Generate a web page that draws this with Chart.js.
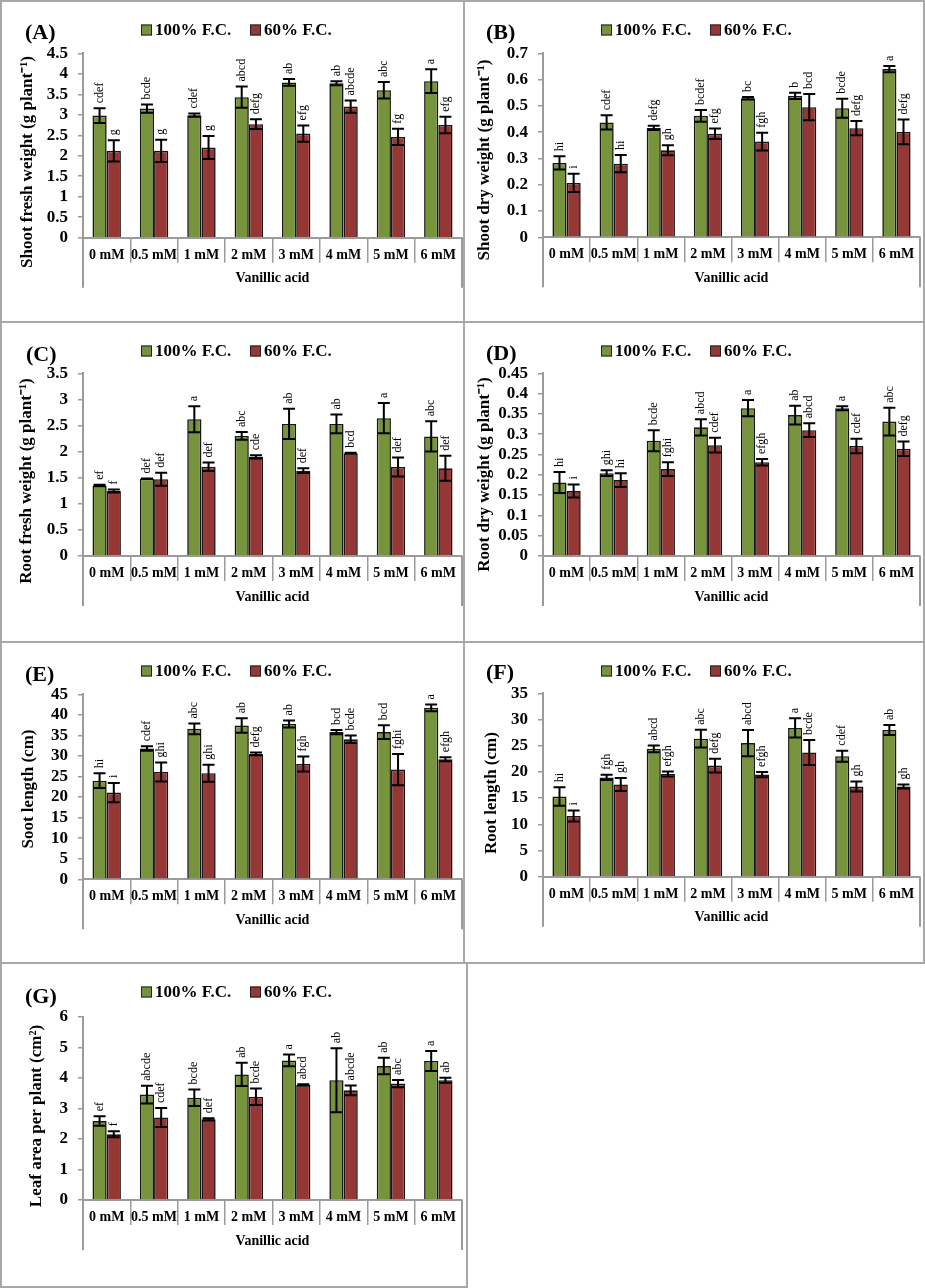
<!DOCTYPE html>
<html>
<head>
<meta charset="utf-8">
<script src="https://cdn.jsdelivr.net/npm/chart.js@4.4.1/dist/chart.umd.min.js"></script>
<style>
html,body{margin:0;padding:0;background:#fff;}
#page{position:relative;width:925px;height:1288px;overflow:hidden;background:#fff;}
.pane{position:absolute;}
.pane canvas{display:block;}
.ln{position:absolute;background:#a8a8a8;z-index:5;}
</style>
</head>
<body>
<div id="page">
  <div class="pane" style="left:0;top:0;"><canvas id="cA" width="463" height="320"></canvas></div>
  <div class="pane" style="left:463px;top:0;"><canvas id="cB" width="462" height="320"></canvas></div>
  <div class="pane" style="left:0;top:320px;"><canvas id="cC" width="463" height="320"></canvas></div>
  <div class="pane" style="left:463px;top:320px;"><canvas id="cD" width="462" height="320"></canvas></div>
  <div class="pane" style="left:0;top:640px;"><canvas id="cE" width="463" height="320"></canvas></div>
  <div class="pane" style="left:463px;top:640px;"><canvas id="cF" width="462" height="320"></canvas></div>
  <div class="pane" style="left:0;top:955px;"><canvas id="cG" width="467" height="333"></canvas></div>

  <div class="ln" style="left:0;top:0;width:925px;height:2px;"></div>
  <div class="ln" style="left:0;top:0;width:2px;height:1288px;"></div>
  <div class="ln" style="left:923px;top:0;width:2px;height:964px;"></div>
  <div class="ln" style="left:463px;top:0;width:2px;height:964px;"></div>
  <div class="ln" style="left:0;top:321px;width:925px;height:2px;"></div>
  <div class="ln" style="left:0;top:641px;width:925px;height:2px;"></div>
  <div class="ln" style="left:0;top:962px;width:925px;height:2px;"></div>
  <div class="ln" style="left:466px;top:962px;width:2px;height:326px;"></div>
  <div class="ln" style="left:0;top:1286px;width:468px;height:2px;"></div>
</div>
<script>
// ---------- shared data ----------
const categories = ['0 mM','0.5 mM','1 mM','2 mM','3 mM','4 mM','5 mM','6 mM'];
const seriesNames = ['100% F.C.','60% F.C.'];
const xTitle = 'Vanillic acid';

// (A) Shoot fresh weight
const sfwFull = [2.98, 3.15, 2.99, 3.43, 3.79, 3.77, 3.60, 3.82];
const sfwFullErr = [0.18, 0.10, 0.04, 0.26, 0.08, 0.05, 0.20, 0.29];
const sfwDef = [2.12, 2.12, 2.20, 2.77, 2.54, 3.20, 2.46, 2.75];
const sfwDefErr = [0.26, 0.27, 0.28, 0.12, 0.20, 0.15, 0.20, 0.20];
const sfwFullLetters = ['cdef','bcde','cdef','abcd','ab','ab','abc','a'];
const sfwDefLetters = ['g','g','g','defg','efg','abcde','fg','efg'];
const sfwTicks = ['0','0.5','1','1.5','2','2.5','3','3.5','4','4.5'];

// (B) Shoot dry weight
const sdwFull = [0.283, 0.437, 0.416, 0.462, 0.529, 0.538, 0.491, 0.640];
const sdwFullErr = [0.025, 0.027, 0.008, 0.022, 0.005, 0.012, 0.036, 0.012];
const sdwDef = [0.207, 0.280, 0.331, 0.394, 0.364, 0.495, 0.415, 0.401];
const sdwDefErr = [0.035, 0.033, 0.019, 0.020, 0.034, 0.050, 0.027, 0.047];
const sdwFullLetters = ['hi','cdef','defg','bcdef','bc','b','bcde','a'];
const sdwDefLetters = ['i','hi','gh','efg','fgh','bcd','defg','defg'];
const sdwTicks = ['0','0.1','0.2','0.3','0.4','0.5','0.6','0.7'];

// (C) Root fresh weight
const rfwFull = [1.35, 1.48, 2.62, 2.30, 2.53, 2.53, 2.64, 2.29];
const rfwFullErr = [0.015, 0.006, 0.25, 0.075, 0.29, 0.18, 0.29, 0.29];
const rfwDef = [1.245, 1.47, 1.71, 1.90, 1.635, 1.97, 1.705, 1.68];
const rfwDefErr = [0.03, 0.125, 0.08, 0.03, 0.045, 0.006, 0.18, 0.24];
const rfwFullLetters = ['ef','def','a','abc','ab','ab','a','abc'];
const rfwDefLetters = ['f','def','def','cde','def','bcd','def','def'];
const rfwTicks = ['0','0.5','1','1.5','2','2.5','3','3.5'];

// (D) Root dry weight
const rdwFull = [0.181, 0.204, 0.284, 0.317, 0.364, 0.347, 0.364, 0.331];
const rdwFullErr = [0.026, 0.007, 0.026, 0.020, 0.020, 0.023, 0.005, 0.034];
const rdwDef = [0.160, 0.187, 0.214, 0.273, 0.231, 0.310, 0.271, 0.264];
const rdwDefErr = [0.016, 0.017, 0.017, 0.018, 0.008, 0.017, 0.018, 0.018];
const rdwFullLetters = ['hi','ghi','bcde','abcd','a','ab','a','abc'];
const rdwDefLetters = ['i','hi','fghi','cdef','efgh','abcd','cdef','defg'];
const rdwTicks = ['0','0.05','0.1','0.15','0.2','0.25','0.3','0.35','0.4','0.45'];

// (E) Soot length
const slFull = [24.0, 31.8, 36.6, 37.4, 37.8, 35.8, 35.8, 41.7];
const slFullErr = [1.8, 0.55, 1.3, 1.75, 0.85, 0.5, 1.7, 0.8];
const slDef = [21.1, 26.1, 25.8, 30.5, 28.05, 34.05, 26.7, 29.2];
const slDefErr = [2.35, 2.3, 2.05, 0.35, 1.8, 0.9, 3.8, 0.5];
const slFullLetters = ['hi','cdef','abc','ab','ab','bcd','bcd','a'];
const slDefLetters = ['i','ghi','ghi','defg','fgh','bcde','fghi','efgh'];
const slTicks = ['0','5','10','15','20','25','30','35','40','45'];

// (F) Root length
const rlFull = [15.3, 18.95, 24.4, 26.35, 25.5, 28.4, 23.0, 28.0];
const rlFullErr = [1.75, 0.5, 0.65, 1.7, 2.5, 1.85, 1.05, 0.95];
const rlDef = [11.6, 17.6, 19.6, 21.2, 19.5, 23.7, 17.2, 17.2];
const rlDefErr = [1.05, 1.25, 0.48, 1.3, 0.5, 2.4, 0.95, 0.38];
const rlFullLetters = ['hi','fgh','abcd','abc','abcd','a','cdef','ab'];
const rlDefLetters = ['i','gh','efgh','defg','efgh','bcde','gh','gh'];
const rlTicks = ['0','5','10','15','20','25','30','35'];

// (G) Leaf area per plant
const laFull = [2.585, 3.45, 3.35, 4.11, 4.57, 3.92, 4.385, 4.55];
const laFullErr = [0.155, 0.29, 0.27, 0.38, 0.19, 1.05, 0.27, 0.33];
const laDef = [2.15, 2.70, 2.64, 3.38, 3.77, 3.59, 3.81, 3.92];
const laDefErr = [0.10, 0.31, 0.04, 0.27, 0.02, 0.16, 0.12, 0.08];
const laFullLetters = ['ef','abcde','bcde','ab','a','ab','ab','a'];
const laDefLetters = ['f','cdef','def','bcde','abcd','abcde','abc','ab'];
const laTicks = ['0','1','2','3','4','5','6'];

// ---------- styling ----------
const SERIF = "'Times New Roman', 'Liberation Serif', serif";
const GREEN = '#77933C', RED = '#953735', AXIS = '#9b9b9b';

const errorBarPlugin = {
  id: 'errorBars',
  afterDatasetsDraw(chart) {
    const {ctx} = chart;
    const y = chart.scales.y;
    ctx.save();
    chart.data.datasets.forEach((ds, i) => {
      const meta = chart.getDatasetMeta(i);
      meta.data.forEach((bar, j) => {
        const v = ds.data[j], e = ds.errors[j];
        const yt = y.getPixelForValue(v + e), yb = y.getPixelForValue(v - e);
        const x = bar.x;
        ctx.strokeStyle = '#000';
        ctx.lineWidth = 2;
        ctx.beginPath();
        ctx.moveTo(x, yt); ctx.lineTo(x, yb);
        ctx.moveTo(x - 6, yt); ctx.lineTo(x + 6, yt);
        ctx.moveTo(x - 6, yb); ctx.lineTo(x + 6, yb);
        ctx.stroke();
        ctx.save();
        ctx.translate(x, yt - 5);
        ctx.rotate(-Math.PI / 2);
        ctx.font = '12px ' + SERIF;
        ctx.fillStyle = '#000';
        ctx.textAlign = 'left';
        ctx.textBaseline = 'middle';
        ctx.fillText(ds.letters[j], 0, 0);
        ctx.restore();
      });
    });
    ctx.restore();
  }
};

const decorPlugin = {
  id: 'decor',
  afterDraw(chart, args, o) {
    const {ctx} = chart;
    const xs = chart.scales.x;
    ctx.save();
    ctx.strokeStyle = AXIS; ctx.lineWidth = 2;
    ctx.beginPath();
    ctx.moveTo(xs.left, xs.top); ctx.lineTo(xs.left, xs.top + 50);
    ctx.moveTo(xs.right, xs.top); ctx.lineTo(xs.right, xs.top + 50);
    ctx.stroke();
    ctx.fillStyle = '#000';
    ctx.textAlign = 'left'; ctx.textBaseline = 'middle';
    ctx.font = 'bold 22px ' + SERIF;
    ctx.fillText(o.tag, o.tagX, o.tagY);
    ctx.font = 'bold 17px ' + SERIF;
    chart.data.datasets.forEach((ds, i) => {
      const bx = o.legX + i * 109;
      ctx.fillStyle = ds.backgroundColor;
      ctx.fillRect(bx, o.legY - 5.5, 11, 11);
      ctx.strokeStyle = '#222'; ctx.lineWidth = 1;
      ctx.strokeRect(bx + 0.5, o.legY - 5, 10, 10);
      ctx.fillStyle = '#000';
      ctx.fillText(ds.label, bx + 14, o.legY + 1);
    });
    ctx.save();
    ctx.translate(o.ytX, o.ytY);
    ctx.rotate(-Math.PI / 2);
    ctx.textAlign = 'center';
    ctx.font = 'bold 17px ' + SERIF;
    ctx.fillText(o.yTitle, 0, 0);
    ctx.restore();
    ctx.restore();
  }
};

const XAXIS_H = 60;

function makeChart(canvasId, L, full, fullErr, fullLetters, def, defErr, defLetters, tickLabels, yTitle) {
  const canvas = document.getElementById(canvasId);
  const W = canvas.width, H = canvas.height;
  const tickVals = tickLabels.map(Number);
  return new Chart(canvas, {
    type: 'bar',
    data: {
      labels: categories,
      datasets: [
        {label: seriesNames[0], data: full, errors: fullErr, letters: fullLetters,
         backgroundColor: GREEN, borderColor: '#161616', borderWidth: 1.6},
        {label: seriesNames[1], data: def, errors: defErr, letters: defLetters,
         backgroundColor: RED, borderColor: '#161616', borderWidth: 1.6}
      ]
    },
    options: {
      responsive: false,
      animation: false,
      layout: {padding: {top: L.t, left: 0, right: W - L.r, bottom: H - L.b - XAXIS_H}},
      datasets: {bar: {categoryPercentage: 0.6, barPercentage: 1.0}},
      plugins: {
        legend: {display: false},
        tooltip: {enabled: false},
        decor: {tag: L.tag, tagX: L.tagX, tagY: L.tagY, legX: L.legX, legY: L.legY,
                ytX: L.ytX, ytY: L.ytY, yTitle: yTitle}
      },
      scales: {
        x: {
          grid: {drawOnChartArea: false, offset: true, tickLength: 25, color: AXIS, lineWidth: 1.5},
          border: {color: AXIS, width: 2},
          ticks: {font: {family: SERIF, size: 14, weight: 'bold'}, color: '#000', padding: -16,
                  maxRotation: 0, autoSkip: false},
          title: {display: true, text: xTitle, color: '#000',
                  font: {family: SERIF, size: 14, weight: 'bold'}, padding: {top: 0, bottom: 10.6}},
          afterFit(s) { s.height = XAXIS_H; }
        },
        y: {
          min: tickVals[0], max: tickVals[tickVals.length - 1],
          afterBuildTicks(s) { s.ticks = tickVals.map(v => ({value: v})); },
          ticks: {autoSkip: false, color: '#000', padding: 10,
                  font: {family: SERIF, size: 17, weight: 'bold', lineHeight: 1},
                  callback: (v, i) => tickLabels[i]},
          grid: {drawOnChartArea: false, tickLength: 5, color: AXIS, lineWidth: 1.5},
          border: {color: AXIS, width: 2},
          afterFit(s) { s.width = L.l; }
        }
      }
    },
    plugins: [errorBarPlugin, decorPlugin]
  });
}

makeChart('cA', {l:83, r:462, t:53.3, b:237.7, tag:'(A)', tagX:25, tagY:33, legX:141, legY:30, ytX:28, ytY:162},
  sfwFull, sfwFullErr, sfwFullLetters, sfwDef, sfwDefErr, sfwDefLetters, sfwTicks, 'Shoot fresh weight (g plant\u207B\u00B9)');
makeChart('cB', {l:80, r:457, t:53.3, b:237.3, tag:'(B)', tagX:23, tagY:33, legX:138, legY:30, ytX:22, ytY:160},
  sdwFull, sdwFullErr, sdwFullLetters, sdwDef, sdwDefErr, sdwDefLetters, sdwTicks, 'Shoot dry weight (g plant\u207B\u00B9)');
makeChart('cC', {l:83, r:462, t:53.3, b:236, tag:'(C)', tagX:26, tagY:35, legX:141, legY:31, ytX:27, ytY:161},
  rfwFull, rfwFullErr, rfwFullLetters, rfwDef, rfwDefErr, rfwDefLetters, rfwTicks, 'Root fresh weight (g plant\u207B\u00B9)');
makeChart('cD', {l:80, r:457, t:53.3, b:236, tag:'(D)', tagX:23, tagY:34, legX:138, legY:31, ytX:22, ytY:154.5},
  rdwFull, rdwFullErr, rdwFullLetters, rdwDef, rdwDefErr, rdwDefLetters, rdwTicks, 'Root dry weight (g plant\u207B\u00B9)');
makeChart('cE', {l:83, r:462, t:54.3, b:239.3, tag:'(E)', tagX:25, tagY:35, legX:141, legY:31, ytX:29, ytY:149},
  slFull, slFullErr, slFullLetters, slDef, slDefErr, slDefLetters, slTicks, 'Soot length (cm)');
makeChart('cF', {l:80, r:457, t:53.3, b:236.7, tag:'(F)', tagX:23, tagY:33, legX:138, legY:31, ytX:29, ytY:153},
  rlFull, rlFullErr, rlFullLetters, rlDef, rlDefErr, rlDefLetters, rlTicks, 'Root length (cm)');
makeChart('cG', {l:83, r:462, t:61.7, b:245, tag:'(G)', tagX:25, tagY:42, legX:141, legY:37, ytX:37, ytY:161},
  laFull, laFullErr, laFullLetters, laDef, laDefErr, laDefLetters, laTicks, 'Leaf area per plant (cm\u00B2)');
</script>
</body>
</html>
